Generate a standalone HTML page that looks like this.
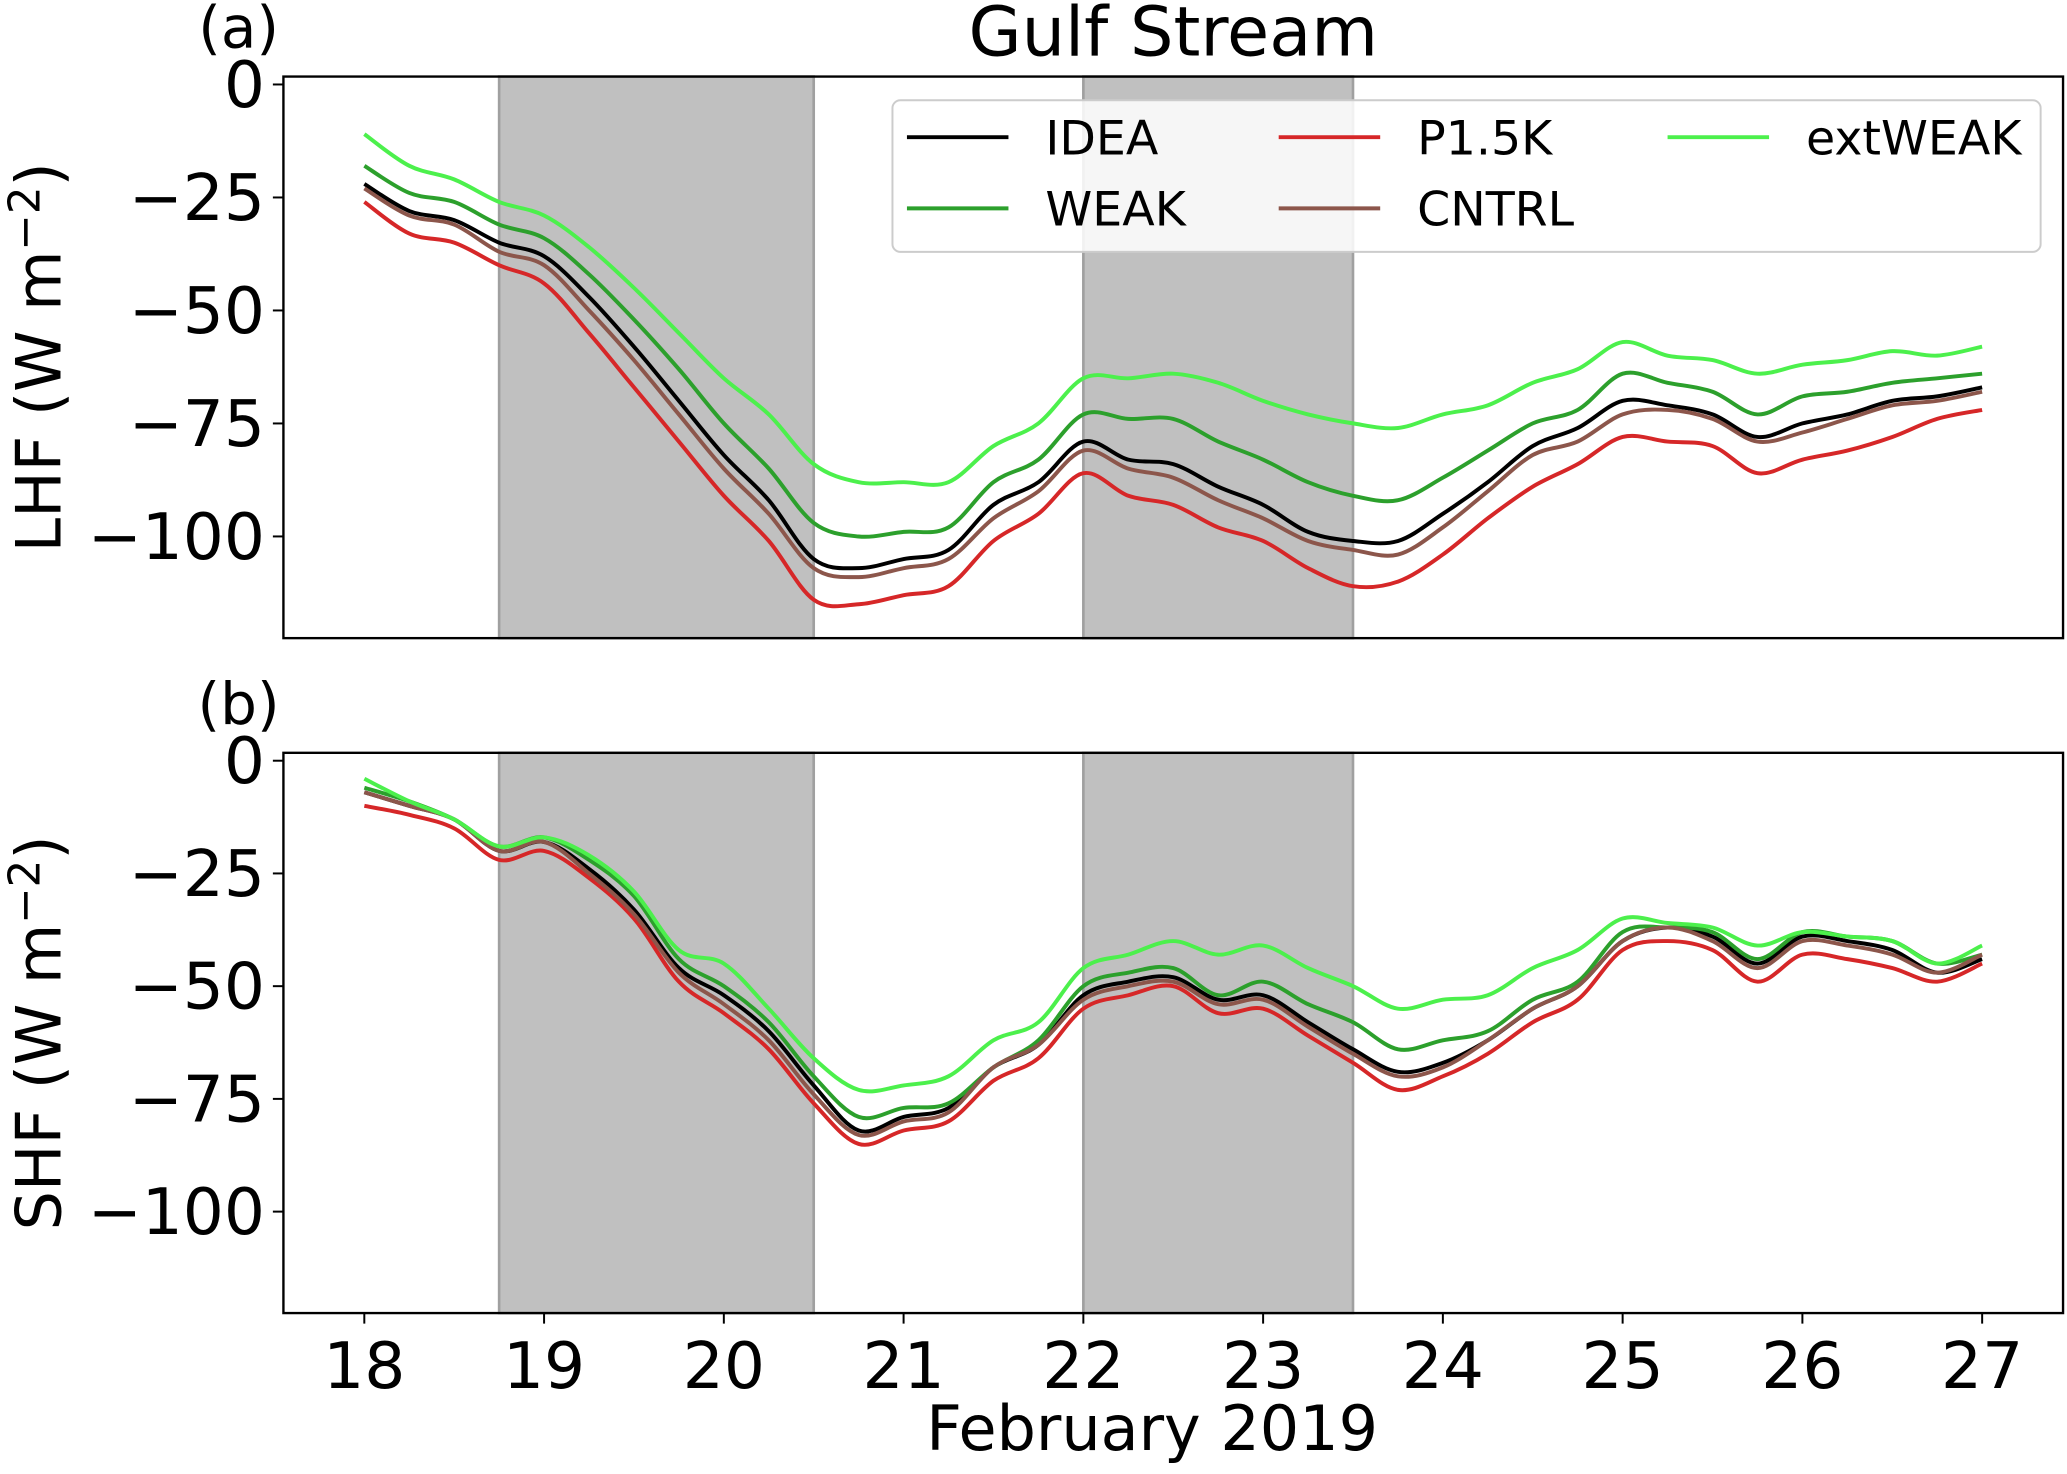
<!DOCTYPE html>
<html><head><meta charset="utf-8">
<style>
html,body{margin:0;padding:0;background:#fff;}
svg{display:block;font-family:"DejaVu Sans","Liberation Sans",sans-serif;}
</style></head>
<body>
<svg id="chart" width="2067" height="1474" viewBox="0 0 1568 1118" xmlns="http://www.w3.org/2000/svg">
<text x="890" y="42" font-size="52" text-anchor="middle">Gulf Stream</text>
<text x="181" y="36" font-size="44" text-anchor="middle">(a)</text>
<text x="181" y="549" font-size="44" text-anchor="middle">(b)</text>
<g id="panels"></g>
<text x="874" y="1100" font-size="47" text-anchor="middle">February 2019</text>
</svg>
<script>
const times = [18,18.25,18.5,18.75,19,19.25,19.5,19.75,20,20.25,20.5,20.75,21,21.25,21.5,21.75,22,22.25,22.5,22.75,23,23.25,23.5,23.75,24,24.25,24.5,24.75,25,25.25,25.5,25.75,26,26.25,26.5,26.75,27];
const seriesNames = ["IDEA","WEAK","P1.5K","CNTRL","extWEAK"];
const lhfIDEA = [-22,-28,-30,-35,-38,-47,-58,-70,-82,-92,-105,-107,-105,-103,-93,-88,-79,-83,-84,-89,-93,-99,-101,-101,-95,-88,-80,-76,-70,-71,-73,-78,-75,-73,-70,-69,-67];
const lhfWEAK = [-18,-24,-26,-31,-34,-42,-52,-63,-75,-85,-97,-100,-99,-98,-88,-83,-73,-74,-74,-79,-83,-88,-91,-92,-87,-81,-75,-72,-64,-66,-68,-73,-69,-68,-66,-65,-64];
const lhfP15K = [-26,-33,-35,-40,-44,-55,-67,-79,-91,-101,-114,-115,-113,-111,-101,-95,-86,-91,-93,-98,-101,-107,-111,-110,-104,-96,-89,-84,-78,-79,-80,-86,-83,-81,-78,-74,-72];
const lhfCNTRL = [-23,-29,-31,-37,-40,-50,-61,-73,-85,-95,-107,-109,-107,-105,-96,-90,-81,-85,-87,-92,-96,-101,-103,-104,-98,-90,-82,-79,-73,-72,-74,-79,-77,-74,-71,-70,-68];
const lhfExtWEAK = [-11,-18,-21,-26,-29,-36,-45,-55,-65,-73,-84,-88,-88,-88,-80,-75,-65,-65,-64,-66,-70,-73,-75,-76,-73,-71,-66,-63,-57,-60,-61,-64,-62,-61,-59,-60,-58];
const shfIDEA = [-7,-10,-13,-20,-18,-24,-33,-46,-52,-60,-72,-82,-79,-77,-68,-63,-52,-49,-48,-53,-52,-58,-64,-69,-67,-62,-55,-50,-40,-37,-39,-45,-39,-40,-42,-47,-44];
const shfWEAK = [-6,-9,-13,-19,-17,-22,-30,-44,-50,-58,-70,-79,-77,-76,-68,-62,-50,-47,-46,-52,-49,-54,-58,-64,-62,-60,-53,-49,-38,-37,-38,-44,-38,-39,-40,-45,-43];
const shfP15K = [-10,-12,-15,-22,-20,-26,-35,-49,-56,-64,-76,-85,-82,-80,-71,-66,-55,-52,-50,-56,-55,-61,-67,-73,-70,-65,-58,-53,-42,-40,-42,-49,-43,-44,-46,-49,-45];
const shfCNTRL = [-7,-10,-13,-20,-18,-25,-34,-47,-54,-62,-74,-83,-80,-78,-68,-63,-53,-50,-49,-54,-53,-59,-65,-70,-68,-62,-55,-50,-40,-37,-40,-46,-40,-41,-43,-47,-43];
const shfExtWEAK = [-4,-9,-13,-19,-17,-21,-29,-42,-45,-55,-66,-73,-72,-70,-62,-58,-46,-43,-40,-43,-41,-46,-50,-55,-53,-52,-46,-42,-35,-36,-37,-41,-38,-39,-40,-45,-41];
const yTicks = [0,-25,-50,-75,-100];
const yTickLabels = ["0","\u221225","\u221250","\u221275","\u2212100"];
const xTicks = [18,19,20,21,22,23,24,25,26,27];
const xTickLabels = ["18","19","20","21","22","23","24","25","26","27"];
const shadeStarts = [18.75,22];
const shadeEnds = [20.5,23.5];

const colors = {"IDEA":"#000000","WEAK":"#2ca02c","P1.5K":"#d62728","CNTRL":"#8c564b","extWEAK":"#4cf04c"};
const NS = "http://www.w3.org/2000/svg";
const X0=215, X1=1565, xmin=17.55, xmax=27.45;
const xs = v => X0 + (v-xmin)/(xmax-xmin)*(X1-X0);
function mk(tag, attrs, parent){const e=document.createElementNS(NS,tag);for(const k in attrs)e.setAttribute(k,attrs[k]);parent.appendChild(e);return e;}
function smooth(pts){
  let d="M"+pts[0][0].toFixed(1)+","+pts[0][1].toFixed(1);
  for(let i=0;i<pts.length-1;i++){
    const p0=pts[Math.max(0,i-1)],p1=pts[i],p2=pts[i+1],p3=pts[Math.min(pts.length-1,i+2)];
    const c1=[p1[0]+(p2[0]-p0[0])/6,p1[1]+(p2[1]-p0[1])/6];
    const c2=[p2[0]-(p3[0]-p1[0])/6,p2[1]-(p3[1]-p1[1])/6];
    d+=" C"+c1[0].toFixed(1)+","+c1[1].toFixed(1)+" "+c2[0].toFixed(1)+","+c2[1].toFixed(1)+" "+p2[0].toFixed(1)+","+p2[1].toFixed(1);
  }
  return d;
}
const root=document.getElementById('panels');
const panels=[
 {key:"lhf",top:58,bot:484,label:"LHF (W m",data:[lhfIDEA,lhfWEAK,lhfP15K,lhfCNTRL,lhfExtWEAK],showX:false},
 {key:"shf",top:571,bot:996,label:"SHF (W m",data:[shfIDEA,shfWEAK,shfP15K,shfCNTRL,shfExtWEAK],showX:true}
];
panels.forEach(p=>{
  const ymax=1.75, ymin=-122.5;
  const ys=v=>p.top+(ymax-v)/(ymax-ymin)*(p.bot-p.top);
  const g=mk('g',{},root);
  
  
  for(let i=0;i<shadeStarts.length;i++){
    const r=mk('rect',{x:xs(shadeStarts[i]),y:p.top,width:xs(shadeEnds[i])-xs(shadeStarts[i]),height:p.bot-p.top,fill:"#c0c0c0",stroke:"#a0a0a0","stroke-width":2},g);
    
    
  }
  yTicks.forEach((v,i)=>{
    const y=ys(v);
    mk('line',{x1:X0-8,x2:X0,y1:y,y2:y,stroke:"#000","stroke-width":1.5},g);
    const t=mk('text',{x:X0-14,y:y+17,"font-size":49,"text-anchor":"end"},g);
    t.textContent=yTickLabels[i];
    
    
  });
  if(p.showX){
    xTicks.forEach((v,i)=>{
      const x=xs(v);
      mk('line',{x1:x,x2:x,y1:p.bot,y2:p.bot+8,stroke:"#000","stroke-width":1.5},g);
      const t=mk('text',{x:x,y:p.bot+57,"font-size":49,"text-anchor":"middle"},g);
      t.textContent=xTickLabels[i];
      
      
    });
  }
  seriesNames.forEach((n,si)=>{
    const pts=times.map((t,i)=>[xs(t),ys(p.data[si][i])]);
    const path=mk('path',{d:smooth(pts),fill:"none",stroke:colors[n],"stroke-width":3,"stroke-linejoin":"round"},g);
    
    
  });
  mk('rect',{x:X0,y:p.top,width:X1-X0,height:p.bot-p.top,fill:"none",stroke:"#000","stroke-width":1.8},g);
  const cy=(p.top+p.bot)/2;
  const yl=mk('text',{x:0,y:0,"font-size":47,"text-anchor":"middle",transform:"translate(46,"+cy+") rotate(-90)"},g);
  yl.innerHTML=p.label+'<tspan dy="-16" font-size="33">\u22122</tspan><tspan dy="16">)</tspan>';
  
  
});
const lg=mk('g',{},root);


mk('rect',{x:677,y:76,width:871,height:115,rx:6,fill:"#ffffff","fill-opacity":0.85,stroke:"#cccccc","stroke-width":1.5},lg);
const legPos=[[688,104],[688,158],[970,104],[970,158],[1265,104]];
const legOrder=["IDEA","WEAK","P1.5K","CNTRL","extWEAK"];
legOrder.forEach((n,i)=>{
  const [x,y]=legPos[i];
  const e=mk('g',{},lg);
  
  
  mk('line',{x1:x,x2:x+77,y1:y,y2:y,stroke:colors[n],"stroke-width":3},e);
  const t=mk('text',{x:x+105,y:y+13,"font-size":36},e);
  t.textContent=n;
});
</script>
</body></html>
